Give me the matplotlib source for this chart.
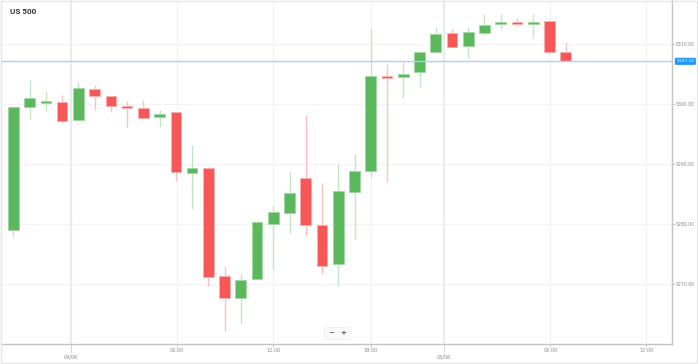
import numpy as np
import matplotlib
matplotlib.use("Agg")
import matplotlib.pyplot as plt
from matplotlib.patches import Rectangle
import matplotlib.transforms as mtransforms

title = "US 500"
opens = [5279.05, 5299.6, 5300.17, 5300.44, 5297.38, 5302.6, 5301.37, 5299.67, 5299.38, 5297.88,
         5298.66, 5288.6, 5289.33, 5271.33, 5267.77, 5270.88, 5280.1, 5281.88, 5287.72, 5279.83,
         5273.43, 5285.33, 5288.88, 5304.65, 5304.6, 5305.38, 5308.77, 5311.83, 5309.67, 5311.83,
         5313.38, 5313.6, 5313.38, 5313.93, 5308.67]
highs = [5299.7, 5304.05, 5302.2, 5301.5, 5303.77, 5303.2, 5301.37, 5300.5, 5300.66, 5299.05,
         5298.66, 5293.2, 5289.5, 5273.0, 5271.72, 5280.5, 5283.05, 5288.72, 5298.27, 5286.8,
         5290.05, 5291.72, 5312.55, 5306.72, 5307.05, 5308.77, 5312.83, 5312.55, 5312.83, 5315.0,
         5315.0, 5314.33, 5315.0, 5313.93, 5310.33]
lows = [5277.8, 5297.55, 5298.8, 5296.8, 5297.38, 5299.1, 5298.77, 5296.27, 5297.72, 5296.27,
        5287.2, 5282.5, 5269.77, 5262.27, 5263.43, 5270.88, 5272.5, 5278.55, 5278.22, 5271.77,
        5269.77, 5277.55, 5287.83, 5287.0, 5301.1, 5302.83, 5308.77, 5309.5, 5307.77, 5311.55,
        5312.6, 5313.05, 5311.1, 5308.33, 5307.16]
closes = [5299.5, 5301.0, 5300.55, 5297.27, 5302.77, 5301.43, 5299.72, 5299.5, 5297.72, 5298.44,
          5288.66, 5289.43, 5271.2, 5267.77, 5270.72, 5280.33, 5282.0, 5285.22, 5279.94, 5273.0,
          5285.55, 5288.93, 5304.77, 5304.55, 5305.1, 5308.77, 5311.77, 5309.5, 5312.0, 5313.27,
          5313.77, 5313.55, 5313.77, 5308.67, 5307.16]
last_price = 5307.16
y_ticks = [5270, 5280, 5290, 5300, 5310]
time_tick_pos = [10.06, 16.0, 22.0, 33.05, 38.97]
time_tick_labels = ["06:00", "12:00", "18:00", "06:00", "12:00"]
day_tick_pos = [3.56, 26.5]
day_tick_labels = ["04/06", "05/06"]

W, H = 698, 364
fig = plt.figure(figsize=(W / 100, H / 100), dpi=100)
fig.patch.set_facecolor("white")
ax = fig.add_axes([1 / W, (H - 344) / H, 671 / W, 344 / H])
ax.set_facecolor("white")

GREEN, GREEN_EDGE, GREEN_WICK = "#5cb85c", "#a3d7a3", "#c2e5c2"
RED, RED_EDGE, RED_WICK = "#f75757", "#fbb0b0", "#fcc0c0"
bw = 0.65
for i, (o, h, l, c) in enumerate(zip(opens, highs, lows, closes)):
    up = c >= o
    col, ec, wc = (GREEN, GREEN_EDGE, GREEN_WICK) if up else (RED, RED_EDGE, RED_WICK)
    ax.vlines(i, l, h, color=wc, lw=1.0, zorder=2)
    bottom = min(o, c)
    height = max(abs(c - o), 0.3)
    if abs(c - o) < 0.3:
        bottom = (o + c) / 2 - 0.15
    ax.add_patch(Rectangle((i - bw / 2, bottom), bw, height, facecolor=col,
                           edgecolor=ec, lw=0.7, zorder=3))

ax.set_xlim(-0.757, 40.54)
ax.set_ylim(5260.05, 5317.38)

# grid
for yv in y_ticks:
    ax.axhline(yv, color="#f3f3f3", lw=0.9, zorder=0)
for xv in time_tick_pos:
    ax.axvline(xv, color="#f3f3f3", lw=0.9, zorder=0)
for xv in day_tick_pos:
    ax.axvline(xv, color="#ececec", lw=1.6, zorder=0)

# last price line
ax.axhline(last_price, color="#a6d3f5", lw=1.0, zorder=4)
trans = mtransforms.blended_transform_factory(ax.transAxes, ax.transData)
ax.text(1.0065, last_price, f"{last_price:.2f}", transform=trans, fontsize=3.2,
        color="white", va="center", ha="left", clip_on=False,
        bbox=dict(boxstyle="round,pad=0.35,rounding_size=0.3", fc="#2196f3", ec="none"))

# y axis on the right
ax.yaxis.tick_right()
ax.set_yticks(y_ticks)
ax.set_yticklabels([f"{v:.2f}" for v in y_ticks])
ax.tick_params(axis="y", which="major", length=2.2, width=0.6, color="#bbbbbb",
               labelsize=3.3, labelcolor="#888888", pad=0.8)

# x ticks
ax.set_xticks(time_tick_pos)
ax.set_xticklabels(time_tick_labels)
ax.set_xticks(day_tick_pos, minor=True)
ax.set_xticklabels(day_tick_labels, minor=True)
ax.tick_params(axis="x", which="major", length=2.2, width=0.6, color="#bbbbbb",
               labelsize=3.5, labelcolor="#888888", pad=0.8)
ax.tick_params(axis="x", which="minor", length=5.8, width=0.6, color="#cccccc",
               labelsize=3.5, labelcolor="#888888", pad=1.9)

for side in ["right", "bottom"]:
    ax.spines[side].set_color("#c4c4c4")
    ax.spines[side].set_linewidth(1.0)
ax.spines["left"].set_color("#ececec")
ax.spines["left"].set_linewidth(1.0)
ax.spines["top"].set_visible(False)

# title
fig.text(10 / W, 1 - 12 / H, title, fontsize=5.8, fontweight="bold", color="#333333",
         family=["Roboto", "DejaVu Sans"], va="center", ha="left")

# zoom buttons
fig.text(331 / W, 1 - 333 / H, "\u2212", fontsize=5, fontweight="bold", color="#555555",
         va="center", ha="center")
fig.text(343 / W, 1 - 333 / H, "+", fontsize=5, fontweight="bold", color="#555555",
         va="center", ha="center")
fig.patches.append(Rectangle((324 / W, 1 - 339 / H), 26 / W, 12 / H, transform=fig.transFigure,
                             facecolor="#fafafa", edgecolor="#eeeeee", lw=0.5, zorder=0))

# outer frame
fig.patches.append(Rectangle((0.5 / W, 1.5 / H), 696.5 / W, 362 / H, transform=fig.transFigure,
                             facecolor="none", edgecolor="#e6e6e6", lw=1.0, zorder=10))

fig.savefig("out.png", dpi=100, facecolor="white")
